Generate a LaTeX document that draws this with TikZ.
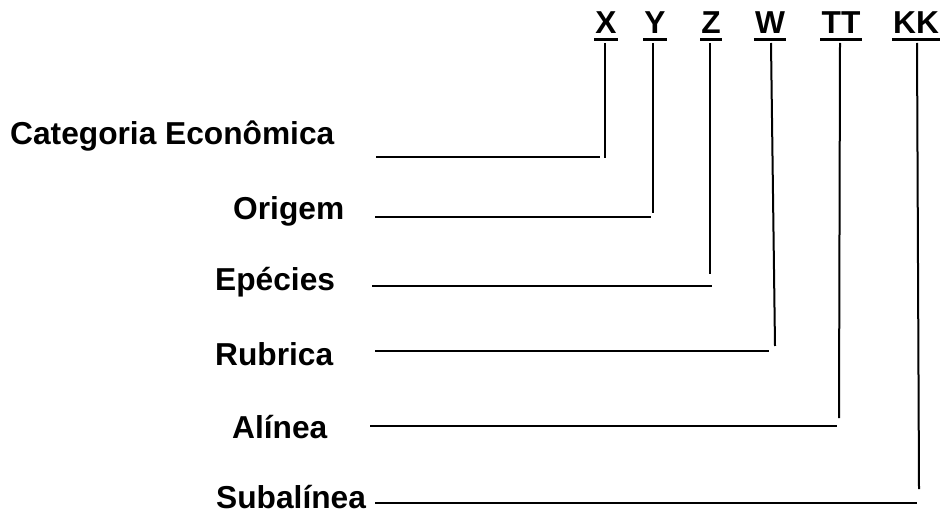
\documentclass[tikz,border=0pt]{standalone}
\usepackage{fontspec}
\setmainfont{Liberation Sans}
\begin{document}
\begin{tikzpicture}[x=1pt,y=-1pt,
  txt/.style={font=\fontsize{31.7}{36}\selectfont\bfseries, inner sep=0pt, anchor=base west},
  code/.style={font=\fontsize{31.7}{36}\selectfont\bfseries, inner sep=0pt, anchor=base},
  uline/.style={line width=3.2pt},
  wire/.style={line width=2pt}]
\useasboundingbox (0,0) rectangle (942,516);

% field labels
\node[txt] (cat) at (10,145) {Categoria Econômica};
\node[txt] (ori) at (233,219) {Origem};
\node[txt] (esp) at (215,290) {Epécies};
\node[txt] (rub) at (215,365) {Rubrica};
\node[txt] (ali) at (232,438) {Alínea};
\node[txt] (sub) at (216,508) {Subalínea};

% code digits, underlined
\node[code] (X) at (606,34) {X};
\node[code] (Y) at (655,34) {Y};
\node[code] (Z) at (711,34) {Z};
\node[code] (W) at (770,34) {W};
\node[code] (TT) at (841,34) {TT};
\node[code] (KK) at (916,34) {KK};
\foreach \n in {X,Y,Z,W,TT,KK}
  \draw[uline] ([shift={(-1,5.5)}]\n.base west) -- ([shift={(1,5.5)}]\n.base east);

% vertical drops below each digit
\coordinate (Xt) at (605,43);  \coordinate (Xb) at (605,158);
\coordinate (Yt) at (653,43);  \coordinate (Yb) at (653,213);
\coordinate (Zt) at (710,43);  \coordinate (Zb) at (710,274);
\coordinate (Wt) at (771,43);  \coordinate (Wb) at (775,346);
\coordinate (Tt) at (840,43);  \coordinate (Tb) at (839,418);
\coordinate (Kt) at (917,43);  \coordinate (Kb) at (919,489);
\foreach \a/\b in {Xt/Xb,Yt/Yb,Zt/Zb,Wt/Wb,Tt/Tb,Kt/Kb}
  \draw[wire] (\a) -- (\b);

% horizontal leaders from each label
\coordinate (ca) at (376,157); \coordinate (cb) at (600,157);
\coordinate (oa) at (375,217); \coordinate (ob) at (651,217);
\coordinate (ea) at (372,286); \coordinate (eb) at (712,286);
\coordinate (ra) at (375,351); \coordinate (rb) at (769,351);
\coordinate (aa) at (370,426); \coordinate (ab) at (837,426);
\coordinate (sa) at (375,503); \coordinate (sb) at (917,503);
\foreach \a/\b in {ca/cb,oa/ob,ea/eb,ra/rb,aa/ab,sa/sb}
  \draw[wire] (\a) -- (\b);
\end{tikzpicture}
\end{document}
